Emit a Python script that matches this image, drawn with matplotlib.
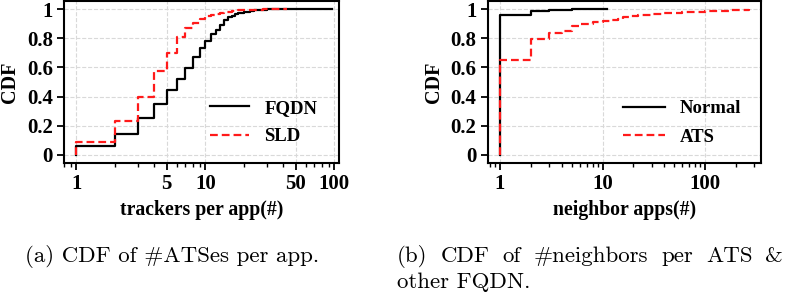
# CDF of trackers per app / neighbor apps, two panels with captions, saved to out.png
import matplotlib
matplotlib.use('Agg')
import matplotlib.pyplot as plt
from matplotlib.ticker import NullFormatter, FixedLocator, FixedFormatter, LogLocator

plt.rcParams['font.family'] = ['Liberation Serif', 'DejaVu Serif']
plt.rcParams['font.weight'] = 'bold'
plt.rcParams['axes.unicode_minus'] = False

# (a) trackers per app: step positions and CDF values
fqdn_x = [1, 2, 3, 4, 5, 6, 7, 8, 9, 10, 11, 12, 13, 14, 15, 16, 17, 18, 20, 22, 24, 27, 30, 35, 95]
fqdn_y = [0.062, 0.146, 0.251, 0.349, 0.443, 0.523, 0.598, 0.669, 0.735, 0.781, 0.827, 0.856,
          0.890, 0.922, 0.945, 0.955, 0.965, 0.972, 0.980, 0.987, 0.992, 0.995, 0.997, 1.0, 1.0]
sld_x = [1, 2, 3, 4, 5, 6, 7, 8, 9, 10, 11, 12, 13, 14, 16, 18, 20, 24, 28, 32, 43]
sld_y = [0.091, 0.233, 0.400, 0.573, 0.700, 0.810, 0.872, 0.902, 0.933, 0.950, 0.960, 0.968,
         0.975, 0.980, 0.986, 0.990, 0.993, 0.996, 0.998, 1.0, 1.0]

# (b) neighbor apps
normal_x = [1, 2, 3, 4, 5, 6, 11]
normal_y = [0.957, 0.985, 0.990, 0.994, 0.997, 1.0, 1.0]
ats_x = [1, 2, 3, 4, 5, 6, 7, 8, 10, 12, 14, 16, 18, 22, 26, 30, 40, 50, 60, 80, 100, 130, 170, 220, 270]
ats_y = [0.651, 0.795, 0.835, 0.850, 0.885, 0.895, 0.900, 0.910, 0.920, 0.925, 0.935, 0.945, 0.955,
         0.958, 0.962, 0.966, 0.972, 0.975, 0.978, 0.982, 0.985, 0.988, 0.992, 0.996, 1.0]

yticks = [0, 0.2, 0.4, 0.6, 0.8, 1]
ytick_labels = ['0', '0.2', '0.4', '0.6', '0.8', '1']

fig = plt.figure(figsize=(7.85, 2.93), dpi=100)
ax1 = fig.add_axes([0.0815, 0.4437, 0.350, 0.5529])
ax2 = fig.add_axes([0.6213, 0.4437, 0.3481, 0.5529])


def cdf_step(ax, xs, ys, **kw):
    # start at (x0, 0) so the first step rises from zero
    ax.step([xs[0]] + xs, [0] + ys, where='post', linewidth=1.6, **kw)


cdf_step(ax1, fqdn_x, fqdn_y, color='black', label='FQDN')
cdf_step(ax1, sld_x, sld_y, color='#ff1a1a', linestyle=(0, (3.5, 1.8)), label='SLD')
cdf_step(ax2, normal_x, normal_y, color='black', label='Normal')
cdf_step(ax2, ats_x, ats_y, color='#ff1a1a', linestyle=(0, (3.5, 1.8)), label='ATS')

for ax, xlim, xt, xlab in [(ax1, (0.8, 108), [1, 5, 10, 50, 100], 'trackers per app(#)'),
                           (ax2, (0.76, 350), [1, 10, 100], 'neighbor apps(#)')]:
    ax.set_xscale('log')
    ax.set_xlim(*xlim)
    ax.set_ylim(-0.055, 1.055)
    ax.xaxis.set_major_locator(FixedLocator(xt))
    ax.xaxis.set_major_formatter(FixedFormatter([str(v) for v in xt]))
    ax.xaxis.set_minor_locator(LogLocator(base=10, subs=range(2, 10)))
    ax.xaxis.set_minor_formatter(NullFormatter())
    ax.set_yticks(yticks)
    ax.set_yticklabels(ytick_labels)
    ax.tick_params(axis='both', which='major', direction='out', length=5, width=1.3, labelsize=15,
                   pad=3)
    ax.tick_params(axis='x', which='minor', direction='out', length=3, width=1.0)
    ax.grid(True, which='major', linestyle='--', color='#d9d9d9', linewidth=0.8)
    for s in ax.spines.values():
        s.set_linewidth(1.5)
    ax.set_xlabel(xlab, fontsize=14.2, fontweight='bold', labelpad=4)
    ax.set_ylabel('CDF', fontsize=14.5, fontweight='bold', labelpad=5)

ax1.legend(loc='center left', bbox_to_anchor=(0.47, 0.25), frameon=False, fontsize=13.5,
           handlelength=2.1, handletextpad=0.8, labelspacing=0.6)
ax2.legend(loc='center left', bbox_to_anchor=(0.435, 0.248), frameon=False, fontsize=13.5,
           handlelength=2.2, handletextpad=0.8, labelspacing=0.6)

# captions (LaTeX-like); line 1 of (b) is justified, so spread its words evenly
cap_font = ['cmr10', 'DejaVu Serif']
cap_kw = dict(family=cap_font, fontweight='normal', fontsize=16.5, va='baseline')
W = 785
fig.text(25 / W, 1 - 261.7 / 293, '(a) CDF of #ATSes per app.', **cap_kw)
words_b = ['(b)', 'CDF', 'of', '#neighbors', 'per', 'ATS', '&']
line_left, line_right = 397, 783
texts = [fig.text(0, 1 - 261.7 / 293, w, **cap_kw) for w in words_b]
renderer = fig.canvas.get_renderer()
widths = [t.get_window_extent(renderer).width for t in texts]
gap = (line_right - line_left - sum(widths)) / (len(words_b) - 1)
pos = line_left
for t, w in zip(texts, widths):
    t.set_x(pos / W)
    pos += w + gap
fig.text(397 / W, 1 - 288 / 293, 'other FQDN.', **cap_kw)

fig.savefig('out.png', dpi=100)
plt.close(fig)
